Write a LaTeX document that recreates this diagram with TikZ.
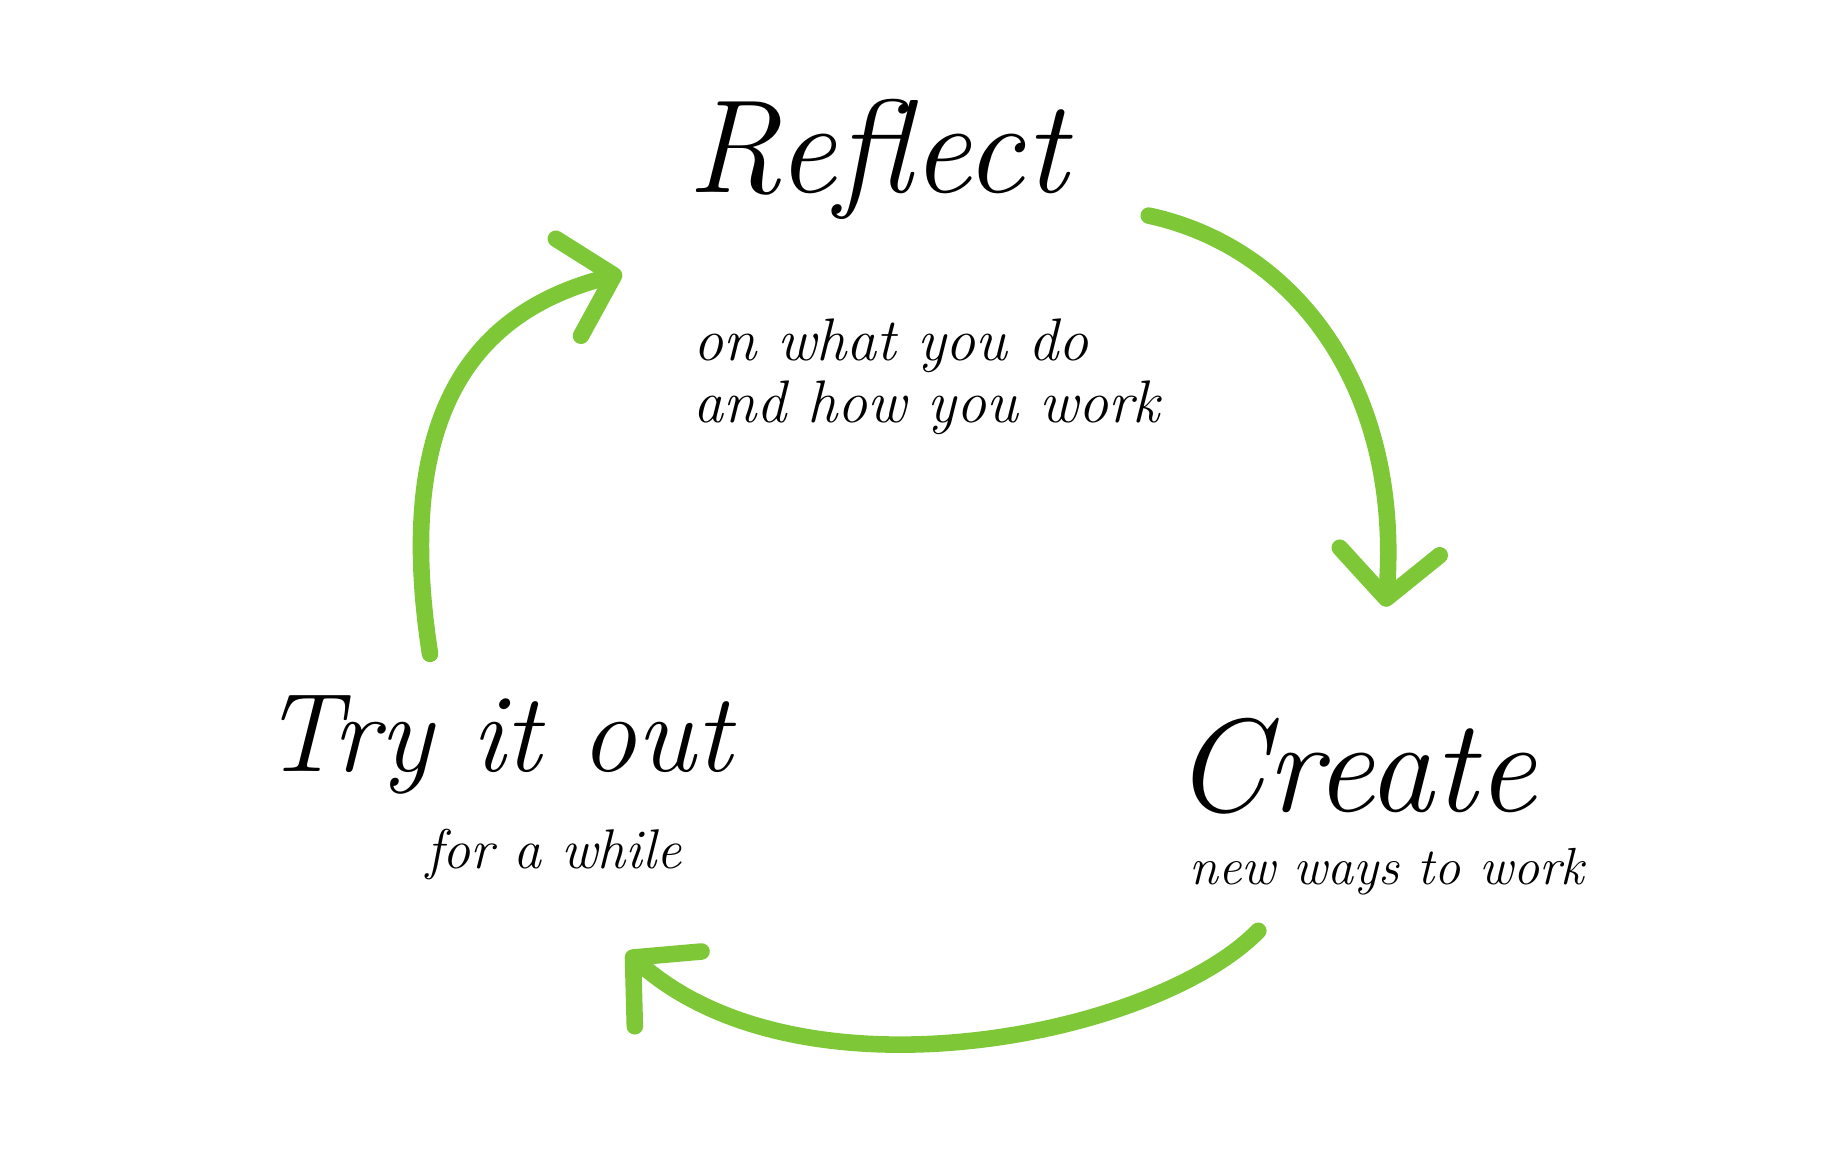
\documentclass[tikz,border=0pt]{standalone}
\usepackage{tikz}
\usetikzlibrary{arrows.meta}
\definecolor{leaf}{RGB}{126,200,56}
\begin{document}
\begin{tikzpicture}[x=0.01cm,y=-0.01cm]
\tikzstyle{every node}+=[inner sep=0pt]
\tikzset{cycle/.style={draw=leaf,line width=4pt,line cap=round,
  -{Straight Barb[length=0.4cm,width=0.85cm,line cap=round,line join=round]}}}
\useasboundingbox (0,0) rectangle (1560,976);
% titles
\node (reflect) at (745,135) {\fontsize{32}{34}\selectfont\itshape Reflect};
\node[align=left,anchor=north west,font=\fontsize{14.5}{15}\selectfont\itshape] (reflectsub) at (588,270) {on what you do\\and how you work};
\node (create) at (1150,650) {\fontsize{32}{34}\selectfont\itshape Create};
\node (createsub) at (1177,740) {\fontsize{12.6}{14}\selectfont\itshape new ways to work};
\node (tryout) at (422,632) {\fontsize{27}{29}\selectfont\itshape Try it out};
\node (trysub) at (470,725) {\fontsize{13.5}{15}\selectfont\itshape for a while};
% connectors
\coordinate (r1) at (975,183);
\coordinate (r2) at (1176,515);
\coordinate (c1) at (1068,790);
\coordinate (c2) at (532,808);
\coordinate (t1) at (365,555);
\coordinate (t2) at (528,232);
\draw[cycle] (r1) .. controls (1100,210) and (1190,330) .. (r2);
\draw[cycle] (c1) .. controls (980,880) and (680,940) .. (c2);
\draw[cycle] (t1) .. controls (330,330) and (420,260) .. (t2);
\end{tikzpicture}
\end{document}
